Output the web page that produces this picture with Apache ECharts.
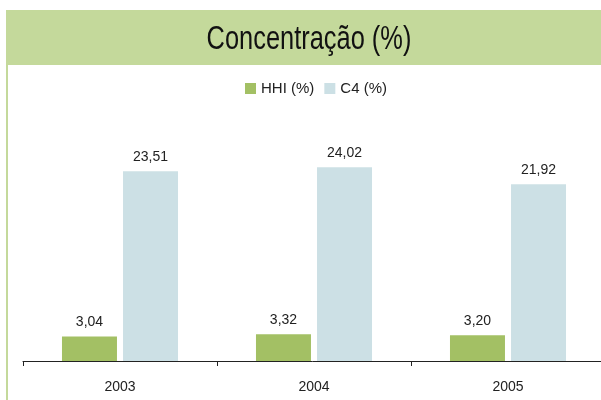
<!DOCTYPE html>
<html>
<head>
<meta charset="utf-8">
<script src="https://cdn.jsdelivr.net/npm/echarts@6/dist/echarts.min.js"></script>
<style>
  html, body { margin: 0; padding: 0; background: #fff; }
  #chart { width: 601px; height: 400px; }
</style>
</head>
<body>
<div id="chart"></div>
<script>
let years = ["2003", "2004", "2005"]
let hhiValues = [3.04, 3.32, 3.20]
let c4Values = [23.51, 24.02, 21.92]

let chartDom = document.getElementById("chart");
let myChart = echarts.init(chartDom);

function fmt(p) {
    return p.value.toFixed(2).replace(".", ",")
}

let labelStyle = {
    show: true,
    position: "top",
    distance: 7,
    formatter: fmt,
    color: "#222",
    fontSize: 14,
    fontFamily: "Liberation Sans"
}

let option = {
    animation: false,
    graphic: [
        {
            type: "rect",
            shape: { x: 6, y: 10, width: 600, height: 55 },
            style: { fill: "#c4d99b" }
        },
        {
            type: "rect",
            shape: { x: 6, y: 65, width: 2, height: 340 },
            style: { fill: "#c4d99b" }
        },
        {
            type: "text",
            x: 309,
            y: 40,
            scaleX: 0.77,
            style: {
                x: 0,
                y: 0,
                text: "Concentração (%)",
                fill: "#111",
                fontSize: 33,
                fontFamily: "Liberation Sans",
                textAlign: "center",
                textVerticalAlign: "middle"
            }
        }
    ],
    legend: {
        top: 76,
        left: 240,
        itemWidth: 11,
        itemHeight: 11,
        itemGap: 10,
        icon: "rect",
        textStyle: {
            fontSize: 15,
            fontFamily: "Liberation Sans",
            color: "#222"
        },
        data: ["HHI (%)", "C4 (%)"]
    },
    grid: {
        left: 23,
        width: 582,
        top: 119,
        bottom: 39,
        outerBoundsMode: "none"
    },
    xAxis: {
        type: "category",
        data: years,
        axisLine: { lineStyle: { color: "#222", width: 1 } },
        axisTick: { show: true, length: 5, lineStyle: { color: "#222" } },
        axisLabel: {
            margin: 19,
            fontSize: 14,
            color: "#222",
            fontFamily: "Liberation Sans"
        }
    },
    yAxis: {
        type: "value",
        min: 0,
        max: 30,
        show: false,
        splitLine: { show: false }
    },
    series: [
        {
            name: "HHI (%)",
            type: "bar",
            data: hhiValues,
            barWidth: 55,
            barGap: "11%",
            itemStyle: { color: "#a3c064" },
            label: labelStyle
        },
        {
            name: "C4 (%)",
            type: "bar",
            data: c4Values,
            barWidth: 55,
            itemStyle: { color: "#cce0e5" },
            label: labelStyle
        }
    ]
};

myChart.setOption(option);
</script>
</body>
</html>
